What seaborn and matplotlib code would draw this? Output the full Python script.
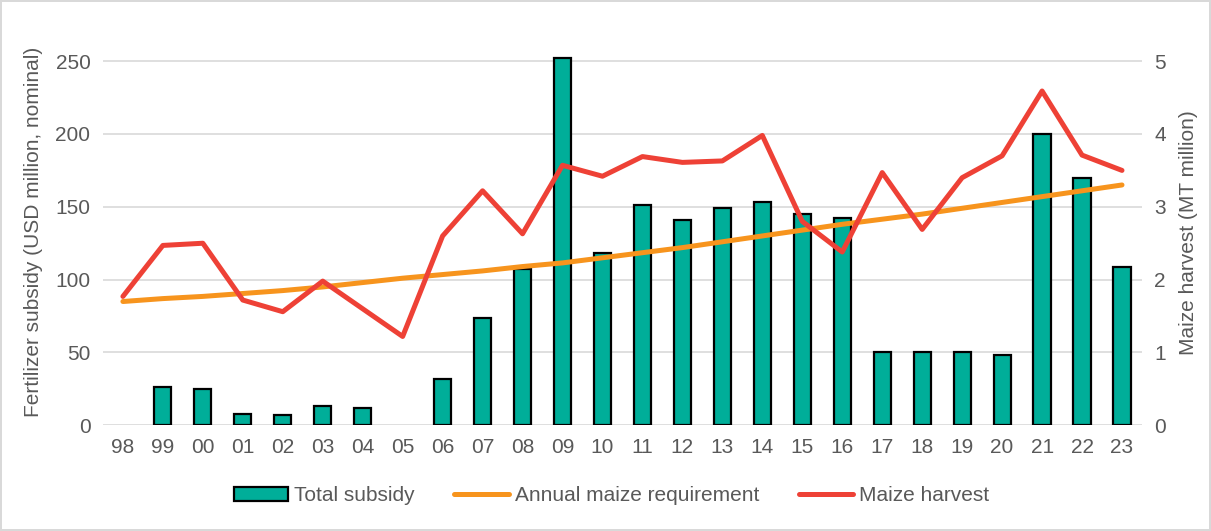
import numpy as np
import pandas as pd
import seaborn as sns
import matplotlib
matplotlib.use('Agg')
import matplotlib.pyplot as plt
from matplotlib.patches import Patch
from matplotlib.lines import Line2D

# data (no bar for 98 and 05)
years = ['98', '99', '00', '01', '02', '03', '04', '05', '06', '07', '08', '09', '10',
         '11', '12', '13', '14', '15', '16', '17', '18', '19', '20', '21', '22', '23']
subsidy = [np.nan, 26, 25, 8, 7, 13, 12, np.nan, 32, 74, 107, 252, 118,
           151, 141, 149, 153, 145, 142, 50, 50, 50, 48, 200, 170, 109]
requirement = [1.70, 1.74, 1.77, 1.81, 1.85, 1.90, 1.96, 2.02, 2.07, 2.12, 2.18, 2.23, 2.30,
               2.37, 2.44, 2.52, 2.60, 2.68, 2.76, 2.83, 2.90, 2.98, 3.06, 3.14, 3.22, 3.30]
harvest = [1.77, 2.47, 2.50, 1.72, 1.56, 1.98, 1.60, 1.22, 2.60, 3.22, 2.63, 3.57, 3.42,
           3.69, 3.61, 3.63, 3.98, 2.80, 2.38, 3.47, 2.69, 3.40, 3.70, 4.59, 3.71, 3.50]

df = pd.DataFrame({'Year': years, 'Subsidy': subsidy,
                   'Requirement': requirement, 'Harvest': harvest})

TEAL = '#00AE99'
ORANGE = '#F7941D'
RED = '#EE4136'
GREY = '#595959'
FS = 15

sns.set_style('white')
plt.rcParams['font.family'] = ['Liberation Sans', 'DejaVu Sans']

fig = plt.figure(figsize=(12.11, 5.31), dpi=100)
fig.patch.set_edgecolor('#d9d9d9')
fig.patch.set_linewidth(1.5)
ax = fig.add_axes([0.085, 0.199, 0.858, 0.727])

sns.barplot(data=df, x='Year', y='Subsidy', color=TEAL, edgecolor='black',
            linewidth=1.6, width=0.43, saturation=1, ax=ax)
ax.set_ylim(0, 265)
ax.set_yticks([0, 50, 100, 150, 200, 250])
ax.grid(axis='y', color='#d9d9d9', linewidth=1.2)
ax.set_axisbelow(True)

ax2 = ax.twinx()
x = np.arange(len(years))
sns.lineplot(x=x, y=df['Requirement'], color=ORANGE, linewidth=3.6, sort=False, ax=ax2)
sns.lineplot(x=x, y=df['Harvest'], color=RED, linewidth=3.6, sort=False, ax=ax2)
ax2.set_ylim(0, 5.3)
ax2.set_yticks([0, 1, 2, 3, 4, 5])
ax.set_xticks(x)
ax.set_xticklabels(years)
ax.set_xlim(-0.5, len(years) - 0.5)

for a in (ax, ax2):
    for s in a.spines.values():
        s.set_visible(False)
    a.tick_params(axis='both', length=0, labelsize=FS, labelcolor=GREY, pad=9)

ax.set_xlabel('')
ax.set_ylabel('Fertilizer subsidy (USD million, nominal)', fontsize=FS, color=GREY, labelpad=9)
ax2.set_ylabel('Maize harvest (MT million)', fontsize=FS, color=GREY, labelpad=9)

handles = [Patch(facecolor=TEAL, edgecolor='black', linewidth=1.6),
           Line2D([], [], color=ORANGE, linewidth=3.6),
           Line2D([], [], color=RED, linewidth=3.6)]
labels = ['Total subsidy', 'Annual maize requirement', 'Maize harvest']
leg = fig.legend(handles, labels, loc='center', bbox_to_anchor=(0.505, 0.066), ncol=3,
                 frameon=False, fontsize=FS, handlelength=2.6, handleheight=0.6,
                 handletextpad=0.3, columnspacing=1.9)
for t in leg.get_texts():
    t.set_color(GREY)

fig.savefig('out.png', dpi=100)
